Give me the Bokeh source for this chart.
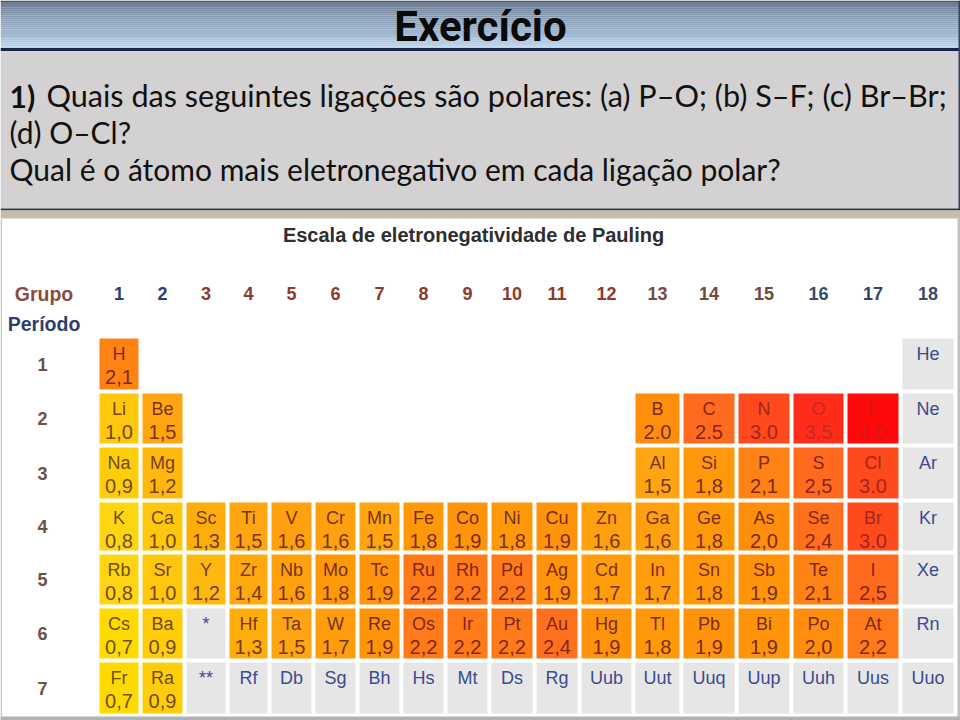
import numpy as np
from bokeh.plotting import figure
from bokeh.models import ColumnDataSource, Range1d, LinearColorMapper
from bokeh.transform import transform
from bokeh.core.properties import value
from bokeh.embed import file_html
from bokeh.resources import INLINE

nan = float("nan")

# ---------------- data ----------------
symbols = [
    "H", "He",
    "Li", "Be", "B", "C", "N", "O", "F", "Ne",
    "Na", "Mg", "Al", "Si", "P", "S", "Cl", "Ar",
    "K", "Ca", "Sc", "Ti", "V", "Cr", "Mn", "Fe", "Co", "Ni", "Cu", "Zn", "Ga", "Ge", "As", "Se", "Br", "Kr",
    "Rb", "Sr", "Y", "Zr", "Nb", "Mo", "Tc", "Ru", "Rh", "Pd", "Ag", "Cd", "In", "Sn", "Sb", "Te", "I", "Xe",
    "Cs", "Ba", "*", "Hf", "Ta", "W", "Re", "Os", "Ir", "Pt", "Au", "Hg", "Tl", "Pb", "Bi", "Po", "At", "Rn",
    "Fr", "Ra", "**", "Rf", "Db", "Sg", "Bh", "Hs", "Mt", "Ds", "Rg", "Uub", "Uut", "Uuq", "Uup", "Uuh", "Uus", "Uuo",
]
groups = (
    [1, 18]
    + [1, 2, 13, 14, 15, 16, 17, 18]
    + [1, 2, 13, 14, 15, 16, 17, 18]
    + list(range(1, 19)) * 4
)
periods = [1] * 2 + [2] * 8 + [3] * 8 + [4] * 18 + [5] * 18 + [6] * 18 + [7] * 18
electronegativity = [
    2.1, nan,
    1.0, 1.5, 2.0, 2.5, 3.0, 3.5, 4.0, nan,
    0.9, 1.2, 1.5, 1.8, 2.1, 2.5, 3.0, nan,
    0.8, 1.0, 1.3, 1.5, 1.6, 1.6, 1.5, 1.8, 1.9, 1.8, 1.9, 1.6, 1.6, 1.8, 2.0, 2.4, 3.0, nan,
    0.8, 1.0, 1.2, 1.4, 1.6, 1.8, 1.9, 2.2, 2.2, 2.2, 1.9, 1.7, 1.7, 1.8, 1.9, 2.1, 2.5, nan,
    0.7, 0.9, nan, 1.3, 1.5, 1.7, 1.9, 2.2, 2.2, 2.2, 2.4, 1.9, 1.8, 1.9, 1.9, 2.0, 2.2, nan,
    0.7, 0.9] + [nan] * 16
dot_separator = ["B", "C", "N", "O", "F", "Cl", "Br"]

group_labels = [str(g) for g in range(1, 19)]
period_labels = [str(n) for n in range(1, 8)]

title_text = "Exercício"
question_num = "1)"
question_line1 = "Quais das seguintes ligações são polares: (a) P\u2013O; (b) S\u2013F; (c) Br\u2013Br;"
question_line2 = "(d) O\u2013Cl?"
question_line3 = "Qual é o átomo mais eletronegativo em cada ligação polar?"
table_title = "Escala de eletronegatividade de Pauling"

# ---------------- layout / style ----------------
W, H = 960, 720
COL_EDGES = [97, 140, 184, 227, 269, 313, 357, 401, 445, 489, 534, 579, 633, 681, 736, 791, 845, 900, 955]
ROW_EDGES = [336, 391, 445, 500, 552, 606, 660, 715]
GAP = 4
GROUP_LABEL_Y = 293
PERIOD_LABEL_X = 42

col_c = [(COL_EDGES[i] + COL_EDGES[i + 1]) / 2 for i in range(18)]
col_w = [COL_EDGES[i + 1] - COL_EDGES[i] - GAP for i in range(18)]
row_c = [(ROW_EDGES[i] + ROW_EDGES[i + 1]) / 2 for i in range(7)]
row_top = [ROW_EDGES[i] + GAP / 2 for i in range(7)]
row_h = [ROW_EDGES[i + 1] - ROW_EDGES[i] - GAP for i in range(7)]


def interp_palette(anchors, lo, hi, n):
    xs = np.linspace(lo, hi, n)
    av = [a[0] for a in anchors]
    rgb = [[int(a[1][k:k + 2], 16) for k in (1, 3, 5)] for a in anchors]
    out = []
    for x in xs:
        c = [int(round(np.interp(x, av, [r[k] for r in rgb]))) for k in range(3)]
        out.append("#%02x%02x%02x" % tuple(c))
    return out


fill_anchors = [
    (0.7, "#FFDA00"), (0.8, "#FFD412"), (0.9, "#FFCD0A"), (1.0, "#FFC70E"),
    (1.2, "#FFB810"), (1.3, "#FFAD0A"), (1.5, "#FFA512"), (1.6, "#FFA10E"),
    (1.8, "#FF990A"), (1.9, "#FF940A"), (2.0, "#FF8E0C"), (2.1, "#FF8214"),
    (2.2, "#FF7A18"), (2.4, "#FF701C"), (2.5, "#FF6A1E"), (3.0, "#FF4A1E"),
    (3.5, "#FF2C1C"), (4.0, "#FF0A0A"),
]
text_anchors = [
    (0.7, "#6E521A"), (1.0, "#74461C"), (1.5, "#76361C"), (2.0, "#7A2A1C"),
    (2.5, "#86261C"), (3.0, "#A2261E"), (3.5, "#C42A22"), (4.0, "#D41818"),
]
N = 34
fill_mapper = LinearColorMapper(palette=interp_palette(fill_anchors, 0.7, 4.0, N),
                                low=0.65, high=4.05, nan_color="#E6E6E6")
text_mapper = LinearColorMapper(palette=interp_palette(text_anchors, 0.7, 4.0, N),
                                low=0.65, high=4.05, nan_color="#3B4B8E")

val_labels = []
for s, v in zip(symbols, electronegativity):
    if np.isnan(v):
        val_labels.append("")
    else:
        t = f"{v:.1f}"
        val_labels.append(t if s in dot_separator else t.replace(".", ","))

src = ColumnDataSource(dict(
    sym=symbols,
    val=electronegativity,
    vlab=val_labels,
    x=[col_c[g - 1] for g in groups],
    y=[row_c[p - 1] for p in periods],
    w=[col_w[g - 1] for g in groups],
    h=[row_h[p - 1] for p in periods],
    ysym=[row_top[p - 1] + 15 for p in periods],
    yval=[row_top[p - 1] + 38 for p in periods],
))

p = figure(width=W, height=H, x_range=Range1d(0, W), y_range=Range1d(H, 0),
           output_backend="svg", toolbar_location=None, min_border=0,
           x_axis_type=None, y_axis_type=None)
p.grid.visible = False
p.outline_line_color = None
p.background_fill_color = "white"
p.border_fill_color = "white"

# ---- slide header ----
n_strips = 24
hdr_cols = interp_palette([(0, "#6E7D92"), (1, "#B8D4EE")], 0, 1, n_strips)
edges = np.linspace(1.5, 48, n_strips + 1)
p.quad(left=0, right=W, top=edges[:-1], bottom=edges[1:], fill_color=hdr_cols, line_color=None)
p.quad(left=0, right=W, top=0, bottom=1.5, fill_color="#4C5668", line_color=None)
p.quad(left=0, right=W, top=47.5, bottom=50.5, fill_color="#1B2547", line_color=None)
p.quad(left=0, right=W, top=50.5, bottom=208, fill_color="#D3D1D1", line_color=None)
p.quad(left=958, right=W, top=0, bottom=209, fill_color="#3A4262", line_color=None)
p.quad(left=0, right=W, top=208, bottom=210, fill_color="#2A3358", line_color=None)
p.quad(left=0, right=W, top=210, bottom=218, fill_color="#C6BFA8", line_color=None)
# frame of the picture
p.quad(left=0, right=1.5, top=218, bottom=H, fill_color="#C8C8C8", line_color=None)
p.quad(left=957, right=W, top=218, bottom=H, fill_color="#C0C0C0", line_color=None)
p.quad(left=0, right=W, top=716, bottom=H, fill_color="#B2B2B2", line_color=None)

p.text(x=[480], y=[25.5], text=[title_text], text_font=value("Roboto"), text_font_style="bold",
       text_font_size="42px", text_align="center", text_baseline="middle", text_color="#0A0A0A")
p.text(x=[9], y=[95], text=[question_num], text_font=value("Lato"), text_font_style="bold",
       text_font_size="30px", text_baseline="middle", text_color="#111111")
p.text(x=[46], y=[95], text=[question_line1], text_font=value("Lato"),
       text_font_size="30.6px", text_baseline="middle", text_color="#111111")
p.text(x=[9], y=[131], text=[question_line2], text_font=value("Lato"),
       text_font_size="30px", text_baseline="middle", text_color="#111111")
p.text(x=[9], y=[168], text=[question_line3], text_font=value("Lato"),
       text_font_size="30px", text_baseline="middle", text_color="#111111")

# ---- table title and axes labels ----
p.text(x=[473], y=[234], text=[table_title], text_font=value("Liberation Sans"), text_font_style="bold",
       text_font_size="20px", text_align="center", text_baseline="middle", text_color="#2E2E2E")
p.text(x=[43.5], y=[GROUP_LABEL_Y], text=["Grupo"], text_font=value("Liberation Sans"), text_font_style="bold",
       text_font_size="19.5px", text_align="center", text_baseline="middle", text_color="#8A4C40")
p.text(x=[43.5], y=[323], text=["Período"], text_font=value("Liberation Sans"), text_font_style="bold",
       text_font_size="19.5px", text_align="center", text_baseline="middle", text_color="#2E3E70")

grp_colors = (["#2F3E6E"] * 2 + ["#8B3A2E"] * 10 + ["#7A4A42", "#6E4A42", "#6E4A42"]
              + ["#3A4A6C", "#3A4262", "#3A4A6C"])
p.text(x=col_c, y=[GROUP_LABEL_Y] * 18, text=group_labels, text_font=value("Liberation Sans"),
       text_font_style="bold", text_font_size="18px", text_align="center", text_baseline="middle",
       text_color=grp_colors)
p.text(x=[PERIOD_LABEL_X] * 7, y=row_c, text=period_labels, text_font=value("Liberation Sans"),
       text_font_style="bold", text_font_size="18px", text_align="center", text_baseline="middle",
       text_color="#6E5048")

# ---- cells ----
p.rect(x="x", y="y", width="w", height="h", source=src,
       fill_color=transform("val", fill_mapper), line_color=None)
p.text(x="x", y="ysym", text="sym", source=src, text_font=value("Liberation Sans"),
       text_font_size="18px", text_align="center", text_baseline="middle",
       text_color=transform("val", text_mapper))
p.text(x="x", y="yval", text="vlab", source=src, text_font=value("Liberation Sans"),
       text_font_size="20px", text_align="center", text_baseline="middle",
       text_color=transform("val", text_mapper))

open("out.html", "w").write(file_html(p, INLINE))
